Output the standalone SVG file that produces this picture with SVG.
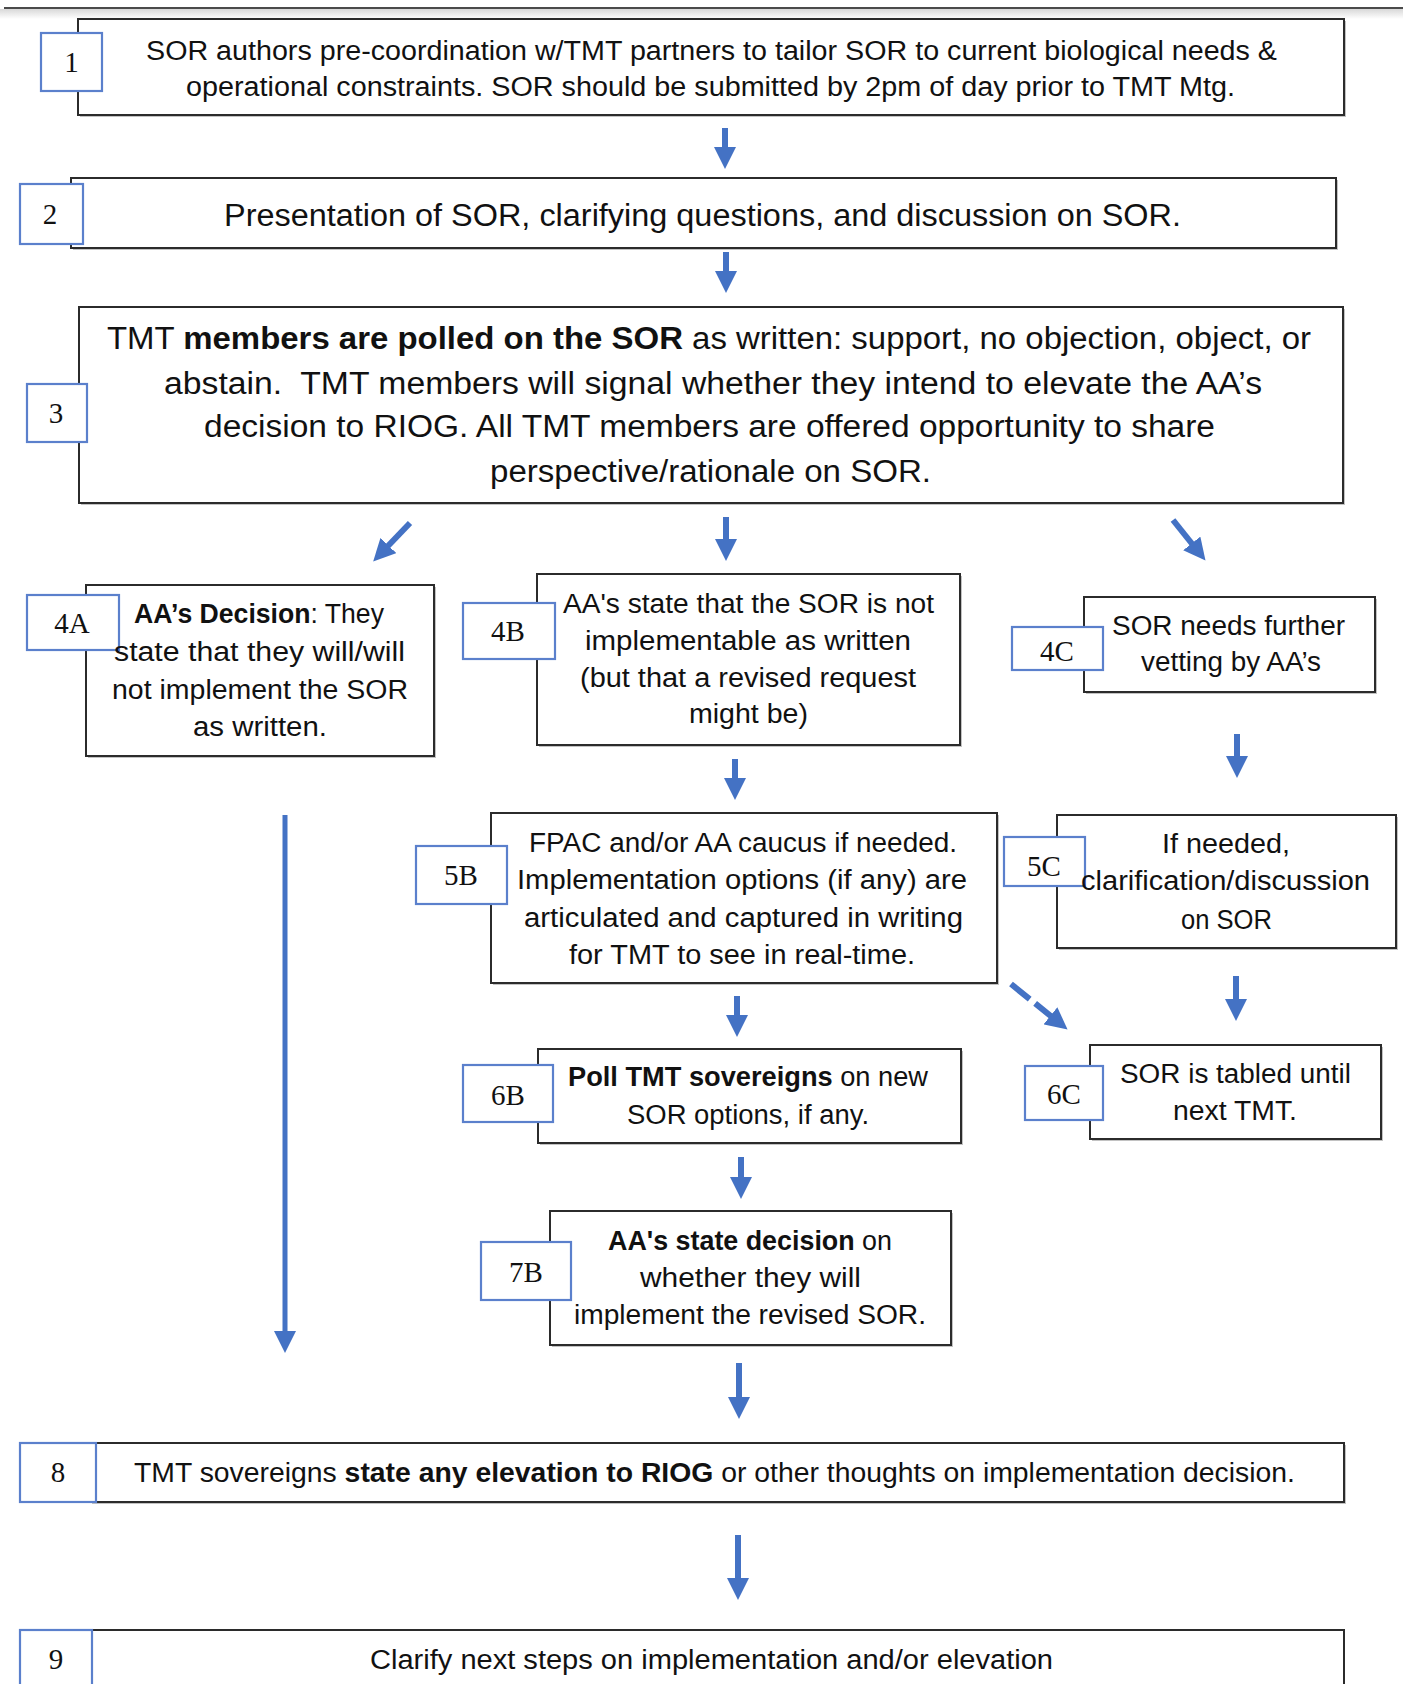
<svg xmlns="http://www.w3.org/2000/svg" width="1403" height="1684" viewBox="0 0 1403 1684">
<defs>
<linearGradient id="topfade" x1="0" y1="0" x2="0" y2="1">
<stop offset="0" stop-color="#d8d8d8"/>
<stop offset="1" stop-color="#ffffff"/>
</linearGradient>
<marker id="head" markerUnits="userSpaceOnUse" markerWidth="22" markerHeight="22" refX="2" refY="11" orient="auto" viewBox="0 0 22 22">
<path d="M0,0 L22,11 L0,22 z" fill="#4472c4"/>
</marker>
<style>
.box{fill:#fff;stroke:#2b2b2b;stroke-width:2}
.shadow{fill:#9a9a9a;opacity:0.6}
.lbl{fill:#fff;stroke:#5b80cc;stroke-width:2.2}
.num{font-family:"Liberation Serif","Times New Roman",serif;font-size:29px;fill:#111;text-anchor:middle}
.t{font-family:"Liberation Sans",Arial,sans-serif;fill:#111}
.s{font-size:27px}
.m{font-size:31px}
.b{font-weight:bold}
.arr{stroke:#4472c4;stroke-width:6;fill:none;marker-end:url(#head)}
.dash{stroke-dasharray:24 7}
.long{stroke-width:5}
</style>
</defs>
<rect x="0" y="0" width="1403" height="1684" fill="#fff"/>
<rect x="0" y="9" width="1403" height="10" fill="url(#topfade)"/>
<line x1="4" y1="8" x2="1403" y2="8" stroke="#4a4a4a" stroke-width="2"/>

<g id="connectors">
<line class="arr" x1="725" y1="128" x2="725" y2="149"/>
<line class="arr" x1="726" y1="252" x2="726" y2="273"/>
<line class="arr" x1="410" y1="523" x2="387" y2="547"/>
<line class="arr" x1="726" y1="517" x2="726" y2="541"/>
<line class="arr" x1="1173" y1="520" x2="1193" y2="545"/>
<line class="arr" x1="735" y1="759" x2="735" y2="780"/>
<line class="arr" x1="1237" y1="734" x2="1237" y2="758"/>
<line class="arr long" x1="285" y1="815" x2="285" y2="1333"/>
<line class="arr" x1="737" y1="996" x2="737" y2="1017"/>
<line class="arr dash" x1="1011" y1="984" x2="1052" y2="1017"/>
<line class="arr" x1="1236" y1="976" x2="1236" y2="1001"/>
<line class="arr" x1="741" y1="1157" x2="741" y2="1179"/>
<line class="arr" x1="739" y1="1363" x2="739" y2="1399"/>
<line class="arr" x1="738" y1="1535" x2="738" y2="1580"/>
</g>

<g id="node1">
<rect class="shadow" x="80" y="21" width="1266" height="96"/>
<rect class="box" x="78" y="19" width="1266" height="96"/>
<rect class="lbl" x="41" y="33" width="61" height="58"/>
<text class="num" x="71.5" y="72">1</text>
<text class="t s" x="146" y="60" textLength="1131" lengthAdjust="spacingAndGlyphs">SOR authors pre-coordination w/TMT partners to tailor SOR to current biological needs &amp;</text>
<text class="t s" x="186" y="96" textLength="1049" lengthAdjust="spacingAndGlyphs">operational constraints. SOR should be submitted by 2pm of day prior to TMT Mtg.</text>
</g>

<g id="node2">
<rect class="shadow" x="73" y="180" width="1265" height="70"/>
<rect class="box" x="71" y="178" width="1265" height="70"/>
<rect class="lbl" x="20" y="184" width="63" height="60"/>
<text class="num" x="50" y="224">2</text>
<text class="t m" x="224" y="226" textLength="957" lengthAdjust="spacingAndGlyphs">Presentation of SOR, clarifying questions, and discussion on SOR.</text>
</g>

<g id="node3">
<rect class="shadow" x="81" y="309" width="1264" height="196"/>
<rect class="box" x="79" y="307" width="1264" height="196"/>
<rect class="lbl" x="27" y="384" width="60" height="58"/>
<text class="num" x="56" y="423">3</text>
<text class="t m" x="107" y="349" textLength="1204" lengthAdjust="spacingAndGlyphs">TMT <tspan class="b">members are polled on the SOR</tspan> as written: support, no objection, object, or</text>
<text class="t m" x="164" y="394" textLength="1098" lengthAdjust="spacingAndGlyphs">abstain.&#160; TMT members will signal whether they intend to elevate the AA’s</text>
<text class="t m" x="204" y="437" textLength="1011" lengthAdjust="spacingAndGlyphs">decision to RIOG. All TMT members are offered opportunity to share</text>
<text class="t m" x="490" y="482" textLength="441" lengthAdjust="spacingAndGlyphs">perspective/rationale on SOR.</text>
</g>

<g id="node4A">
<rect class="shadow" x="88" y="587" width="348" height="171"/>
<rect class="box" x="86" y="585" width="348" height="171"/>
<rect class="lbl" x="27" y="595" width="92" height="55"/>
<text class="num" x="72" y="633">4A</text>
<text class="t s" x="134" y="623" textLength="250" lengthAdjust="spacingAndGlyphs"><tspan class="b">AA’s Decision</tspan>: They</text>
<text class="t s" x="114" y="661" textLength="291" lengthAdjust="spacingAndGlyphs">state that they will/will</text>
<text class="t s" x="112" y="699" textLength="296" lengthAdjust="spacingAndGlyphs">not implement the SOR</text>
<text class="t s" x="193" y="736" textLength="134" lengthAdjust="spacingAndGlyphs">as written.</text>
</g>

<g id="node4B">
<rect class="shadow" x="539" y="576" width="423" height="171"/>
<rect class="box" x="537" y="574" width="423" height="171"/>
<rect class="lbl" x="463" y="603" width="92" height="56"/>
<text class="num" x="508" y="641">4B</text>
<text class="t s" x="563" y="613" textLength="371" lengthAdjust="spacingAndGlyphs">AA's state that the SOR is not</text>
<text class="t s" x="585" y="650" textLength="326" lengthAdjust="spacingAndGlyphs">implementable as written</text>
<text class="t s" x="580" y="687" textLength="336" lengthAdjust="spacingAndGlyphs">(but that a revised request</text>
<text class="t s" x="689" y="723" textLength="119" lengthAdjust="spacingAndGlyphs">might be)</text>
</g>

<g id="node4C">
<rect class="shadow" x="1086" y="599" width="291" height="95"/>
<rect class="box" x="1084" y="597" width="291" height="95"/>
<rect class="lbl" x="1012" y="627" width="91" height="43"/>
<text class="num" x="1057" y="661">4C</text>
<text class="t s" x="1112" y="635" textLength="233" lengthAdjust="spacingAndGlyphs">SOR needs further</text>
<text class="t s" x="1141" y="671" textLength="180" lengthAdjust="spacingAndGlyphs">vetting by AA’s</text>
</g>

<g id="node5B">
<rect class="shadow" x="493" y="815" width="506" height="170"/>
<rect class="box" x="491" y="813" width="506" height="170"/>
<rect class="lbl" x="416" y="846" width="91" height="58"/>
<text class="num" x="461" y="885">5B</text>
<text class="t s" x="529" y="852" textLength="428" lengthAdjust="spacingAndGlyphs">FPAC and/or AA caucus if needed.</text>
<text class="t s" x="517" y="889" textLength="450" lengthAdjust="spacingAndGlyphs">Implementation options (if any) are</text>
<text class="t s" x="524" y="927" textLength="439" lengthAdjust="spacingAndGlyphs">articulated and captured in writing</text>
<text class="t s" x="569" y="964" textLength="346" lengthAdjust="spacingAndGlyphs">for TMT to see in real-time.</text>
</g>

<g id="node5C">
<rect class="shadow" x="1059" y="817" width="339" height="133"/>
<rect class="box" x="1057" y="815" width="339" height="133"/>
<rect class="lbl" x="1004" y="837" width="81" height="49"/>
<text class="num" x="1044" y="876">5C</text>
<text class="t s" x="1162" y="853" textLength="128" lengthAdjust="spacingAndGlyphs">If needed,</text>
<text class="t s" x="1081" y="890" textLength="289" lengthAdjust="spacingAndGlyphs">clarification/discussion</text>
<text class="t s" x="1181" y="929" textLength="91" lengthAdjust="spacingAndGlyphs">on SOR</text>
</g>

<g id="node6B">
<rect class="shadow" x="540" y="1051" width="423" height="94"/>
<rect class="box" x="538" y="1049" width="423" height="94"/>
<rect class="lbl" x="463" y="1065" width="90" height="57"/>
<text class="num" x="508" y="1105">6B</text>
<text class="t s" x="568" y="1086" textLength="360" lengthAdjust="spacingAndGlyphs"><tspan class="b">Poll TMT sovereigns</tspan> on new</text>
<text class="t s" x="627" y="1124" textLength="242" lengthAdjust="spacingAndGlyphs">SOR options, if any.</text>
</g>

<g id="node6C">
<rect class="shadow" x="1092" y="1047" width="291" height="94"/>
<rect class="box" x="1090" y="1045" width="291" height="94"/>
<rect class="lbl" x="1025" y="1066" width="78" height="54"/>
<text class="num" x="1064" y="1104">6C</text>
<text class="t s" x="1120" y="1083" textLength="231" lengthAdjust="spacingAndGlyphs">SOR is tabled until</text>
<text class="t s" x="1173" y="1120" textLength="124" lengthAdjust="spacingAndGlyphs">next TMT.</text>
</g>

<g id="node7B">
<rect class="shadow" x="552" y="1213" width="401" height="134"/>
<rect class="box" x="550" y="1211" width="401" height="134"/>
<rect class="lbl" x="481" y="1242" width="90" height="58"/>
<text class="num" x="526" y="1282">7B</text>
<text class="t s" x="608" y="1250" textLength="284" lengthAdjust="spacingAndGlyphs"><tspan class="b">AA's state decision</tspan> on</text>
<text class="t s" x="640" y="1287" textLength="221" lengthAdjust="spacingAndGlyphs">whether they will</text>
<text class="t s" x="574" y="1324" textLength="352" lengthAdjust="spacingAndGlyphs">implement the revised SOR.</text>
</g>

<g id="node8">
<rect class="shadow" x="92" y="1445" width="1254" height="59"/>
<rect class="box" x="90" y="1443" width="1254" height="59"/>
<rect class="lbl" x="20" y="1443" width="76" height="59"/>
<text class="num" x="58" y="1482">8</text>
<text class="t s" x="134" y="1482" textLength="1161" lengthAdjust="spacingAndGlyphs">TMT sovereigns <tspan class="b">state any elevation to RIOG</tspan> or other thoughts on implementation decision.</text>
</g>

<g id="node9">
<rect class="box" x="92" y="1630" width="1252" height="80"/>
<rect class="lbl" x="20" y="1630" width="72" height="80"/>
<text class="num" x="56" y="1669">9</text>
<text class="t s" x="370" y="1669" textLength="683" lengthAdjust="spacingAndGlyphs">Clarify next steps on implementation and/or elevation</text>
</g>
</svg>
